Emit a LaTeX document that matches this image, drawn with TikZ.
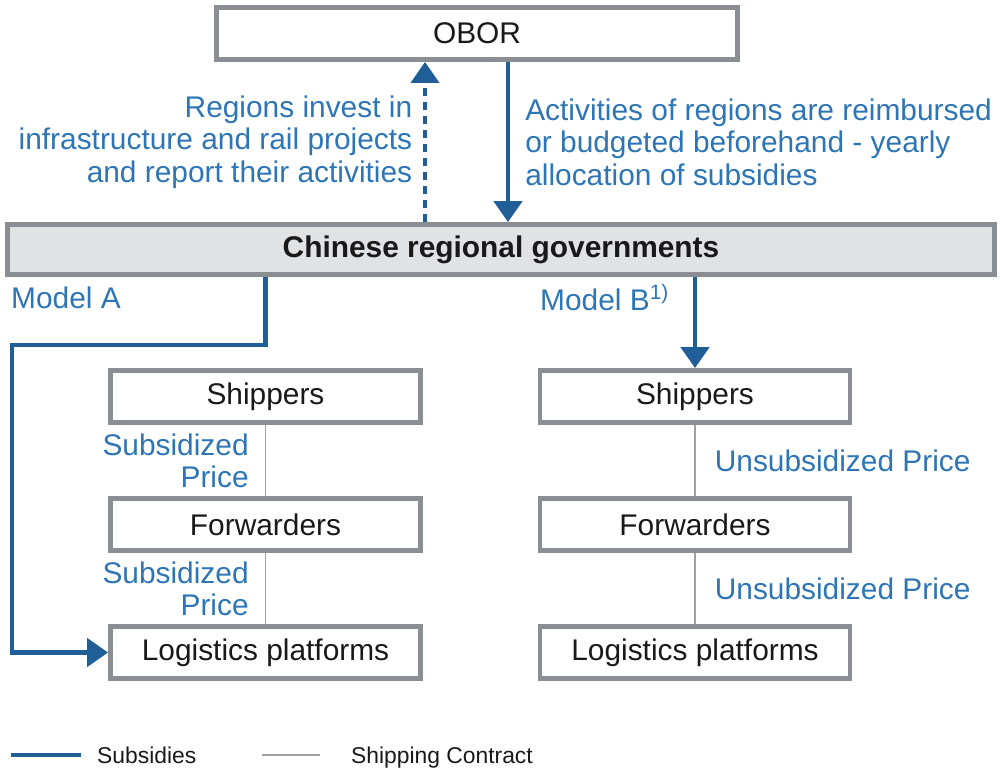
\documentclass[tikz,border=0pt]{standalone}
\usepackage{fontspec}
\setmainfont{Liberation Sans}
\usepackage{xcolor}
\usetikzlibrary{arrows.meta, positioning}
\definecolor{subblue}{RGB}{31,94,150}
\definecolor{lblblue}{RGB}{46,117,182}
\definecolor{boxgray}{RGB}{138,141,145}
\definecolor{govfill}{RGB}{225,226,228}
\definecolor{linegray}{RGB}{160,160,162}

\begin{document}
\begin{tikzpicture}[node distance=2.56cm, font=\fontsize{17}{18.4}\selectfont, text=black!90]
    \tikzstyle{entity} = [rectangle, minimum width=6.2cm, minimum height=1.04cm, text centered, draw=boxgray, line width=2.8pt, fill=white]
    \tikzstyle{govbox} = [entity, minimum width=19.74cm, minimum height=1cm, fill=govfill, font=\fontsize{17}{18.4}\selectfont\bfseries]
    \tikzstyle{subsidy} = [draw=subblue, line width=2.8pt]
    \tikzstyle{arrow} = [-{Triangle[width=0.56cm,length=0.42cm]}]
    \tikzstyle{contract} = [draw=linegray, line width=1.1pt]
    \tikzstyle{lbl} = [text=lblblue]
    \tikzstyle{legend} = [anchor=base west, font=\fontsize{13}{15}\selectfont]

    \useasboundingbox (0,0) rectangle (20,-15.36);

    \node (obor) [entity, minimum width=10.42cm] at (9.54,-0.67) {OBOR};
    \node (gov) [govbox] at (10.02,-4.99) {Chinese regional governments};
    \node (lshp) [entity] at (5.31,-7.93) {Shippers};
    \node (lfwd) [entity, below of=lshp] {Forwarders};
    \node (llog) [entity, below of=lfwd] {Logistics platforms};
    \node (rshp) [entity] at (13.9,-7.93) {Shippers};
    \node (rfwd) [entity, below of=rshp] {Forwarders};
    \node (rlog) [entity, below of=rfwd] {Logistics platforms};

    \coordinate (invest) at (8.5,0);
    \coordinate (alloc) at (10.16,0);
    \coordinate (turnA) at (0.24,-6.9);

    \node (modela) [lbl, anchor=west] at (0.1,-5.96) {Model A};
    \node (modelb) [lbl, anchor=west] at (10.68,-5.96) {Model B\textsuperscript{1)}};

    \draw [subsidy, arrow, line width=2.2pt, dash pattern=on 0.16cm off 0.12cm] (gov.north -| invest) -- node[lbl, left=0.1cm, align=right] {Regions invest in\\infrastructure and rail projects\\and report their activities} (obor.south -| invest);
    \draw [subsidy, arrow] (obor.south -| alloc) -- node[lbl, right=0.18cm, align=left] {Activities of regions are reimbursed\\or budgeted beforehand - yearly\\allocation of subsidies} (gov.north -| alloc);
    \draw [subsidy, arrow] (gov.south -| lshp.north) |- (turnA) |- (llog.west);
    \draw [subsidy, arrow] (gov.south -| rshp.north) -- (rshp.north);

    \draw [contract] (lshp) -- node[lbl, left=0.2cm, align=right] {Subsidized\\Price} (lfwd);
    \draw [contract] (lfwd) -- node[lbl, left=0.2cm, align=right] {Subsidized\\Price} (llog);
    \draw [contract] (rshp) -- node[lbl, right=0.26cm] {Unsubsidized Price} (rfwd);
    \draw [contract] (rfwd) -- node[lbl, right=0.26cm] {Unsubsidized Price} (rlog);

    \node (legsub) [legend] at (1.82,-15.26) {Subsidies};
    \node (legship) [legend] at (6.9,-15.26) {Shipping Contract};
    \draw [subsidy] (legsub.base west) ++(-1.6,0.16) -- ++(1.4,0);
    \draw [contract, line width=1.6pt] (legship.base west) ++(-1.66,0.16) -- ++(1.16,0);
\end{tikzpicture}
\end{document}
